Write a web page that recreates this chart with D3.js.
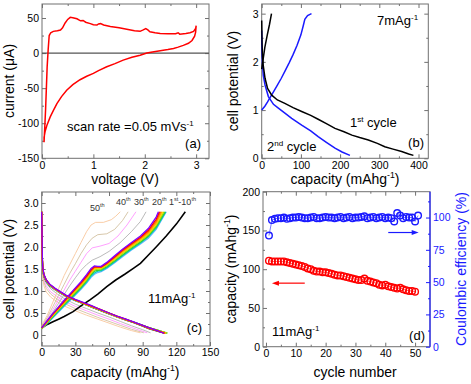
<!DOCTYPE html>
<html>
<head>
<meta charset="utf-8">
<script src="https://cdn.jsdelivr.net/npm/d3@7"></script>
<style>
  body { margin: 0; background: #fff; }
  svg { display: block; }
</style>
</head>
<body>
<div id="chart"></div>
<script>
// ---- data ----
// (a) cyclic voltammogram: [voltage V, current uA]
var cvAnodic = [[0.04,-127],[0.07,-80],[0.1,-20],[0.12,5],[0.14,25],[0.17,29],[0.22,31],[0.3,32],[0.36,33],[0.4,36],[0.45,43],[0.5,48],[0.55,51],[0.6,50.5],[0.68,49],[0.75,46],[0.8,46.5],[0.85,44],[0.94,42],[1.0,40.5],[1.07,40],[1.1,41.5],[1.14,42],[1.2,40],[1.33,38],[1.5,36],[1.65,34],[1.8,32],[1.91,31],[1.97,33],[2.02,35],[2.06,33],[2.1,30.5],[2.2,29],[2.3,28],[2.45,27.5],[2.6,27.5],[2.65,29],[2.68,27],[2.8,28],[2.88,29],[2.95,31],[2.99,35],[3.0,39]];
var cvCathodic = [[3.0,39],[2.99,30],[2.97,24],[2.92,18],[2.85,14],[2.75,11],[2.65,8.5],[2.56,6.6],[2.45,5],[2.3,3.4],[2.15,1.5],[2.04,0],[1.91,-3],[1.75,-6],[1.58,-10],[1.42,-15],[1.26,-19.5],[1.1,-25],[1.0,-29],[0.87,-33],[0.74,-38],[0.6,-45],[0.48,-53],[0.38,-62],[0.29,-72],[0.22,-82],[0.16,-91],[0.1,-102],[0.06,-112],[0.04,-120],[0.04,-127]];

// (b) 7 mA/g, [capacity, potential]
var bDis1 = [[0,2.86],[0.5,2.6],[1,2.35],[2,2.1],[4,1.92],[8.5,1.66],[15,1.45],[25.5,1.31],[40,1.21],[59,1.14],[80,1.05],[102,0.97],[125,0.89],[144,0.81],[165,0.72],[187,0.62],[210,0.55],[230,0.48],[250,0.43],[272,0.38],[295,0.31],[314,0.24],[335,0.19],[357,0.14],[375,0.09],[387,0.06]];
var bCh1 = [[0,1.85],[3,2.02],[8,2.3],[14,2.55],[20,2.78],[25,3.0]];
var bDis2 = [[0,2.65],[0.5,2.35],[1,2.15],[2,1.95],[4,1.72],[8.5,1.52],[17,1.28],[30,1.12],[42.5,1.04],[60,0.93],[76.5,0.83],[102,0.69],[125,0.57],[144,0.45],[165,0.33],[187,0.21],[205,0.13],[225,0.06]];
var bCh2 = [[0,1.0],[8,1.08],[15,1.17],[22,1.27],[30,1.38],[40,1.52],[50,1.66],[60,1.82],[70,1.98],[80,2.15],[90,2.34],[100,2.56],[106,2.75],[110,2.88],[117,2.96],[127,3.0]];

// (c) 11 mA/g, cycles 2-10 charge: potential at shared capacities, then end capacity at 2.8 V
var chargeCaps = [0,5,10,15,20,25,30,35,40,44,47,50,53,58,65,72,80,88,95,102];
var rainbowCharge = [
  [0.14,0.26,0.39,0.52,0.65,0.78,0.91,1.04,1.18,1.31,1.38,1.42,1.44,1.51,1.64,1.78,1.93,2.07,2.20,2.40],
  [0.14,0.27,0.41,0.54,0.67,0.80,0.93,1.06,1.20,1.34,1.41,1.45,1.46,1.53,1.66,1.80,1.95,2.09,2.23,2.43],
  [0.15,0.28,0.42,0.56,0.69,0.82,0.95,1.08,1.23,1.37,1.45,1.47,1.48,1.55,1.68,1.82,1.97,2.11,2.25,2.46],
  [0.15,0.29,0.44,0.58,0.71,0.85,0.98,1.11,1.26,1.40,1.48,1.50,1.50,1.58,1.71,1.85,2.00,2.14,2.28,2.49],
  [0.15,0.30,0.45,0.59,0.73,0.87,1.00,1.13,1.28,1.42,1.50,1.52,1.52,1.60,1.73,1.87,2.02,2.16,2.30,2.52],
  [0.15,0.31,0.46,0.60,0.74,0.88,1.02,1.15,1.30,1.44,1.52,1.53,1.53,1.61,1.75,1.89,2.04,2.18,2.32,2.55],
  [0.16,0.31,0.47,0.61,0.75,0.90,1.04,1.17,1.32,1.46,1.54,1.54,1.54,1.62,1.76,1.91,2.06,2.20,2.35,2.59],
  [0.16,0.32,0.48,0.62,0.77,0.91,1.05,1.19,1.34,1.48,1.55,1.55,1.55,1.63,1.78,1.93,2.08,2.22,2.38,2.63],
  [0.16,0.33,0.49,0.64,0.79,0.93,1.07,1.21,1.37,1.51,1.57,1.56,1.56,1.65,1.80,1.95,2.10,2.25,2.42,2.68]
];
var rainbowChargeEnd = [111,110.5,110,109,108,107,106,105,104];

// cycles 1-10 discharge: potential at shared capacities, then end capacity at 0.04 V
var dischargeCaps = [0,0.3,0.6,1,2,4,7,12,17,22,30,37,45,52,60,67,75,82,90,96,103];
var mainDischarge = [
  [2.8,2.1,1.65,1.46,1.33,1.22,1.12,1.03,0.95,0.87,0.78,0.71,0.63,0.56,0.48,0.41,0.34,0.28,0.20,0.14,0.09],
  [2.8,2.2,1.68,1.48,1.34,1.23,1.13,1.03,0.95,0.87,0.78,0.71,0.64,0.57,0.49,0.42,0.35,0.29,0.22,0.16,0.11],
  [2.8,2.2,1.69,1.49,1.35,1.23,1.13,1.04,0.95,0.88,0.79,0.72,0.64,0.57,0.49,0.42,0.35,0.29,0.22,0.16,0.11],
  [2.8,2.2,1.69,1.49,1.35,1.24,1.14,1.04,0.96,0.88,0.79,0.72,0.64,0.57,0.49,0.42,0.35,0.29,0.22,0.16,0.11],
  [2.8,2.2,1.70,1.50,1.36,1.24,1.14,1.04,0.96,0.88,0.79,0.72,0.64,0.57,0.49,0.42,0.35,0.29,0.21,0.16,0.11],
  [2.8,2.2,1.70,1.50,1.36,1.24,1.14,1.04,0.96,0.88,0.79,0.72,0.64,0.57,0.49,0.42,0.35,0.29,0.21,0.15,0.10],
  [2.8,2.2,1.71,1.51,1.36,1.25,1.15,1.05,0.97,0.89,0.80,0.73,0.65,0.57,0.49,0.42,0.35,0.29,0.21,0.15,0.10],
  [2.8,2.2,1.72,1.51,1.37,1.25,1.15,1.05,0.97,0.89,0.80,0.73,0.65,0.58,0.50,0.43,0.35,0.29,0.21,0.15,0.10],
  [2.8,2.3,1.73,1.52,1.37,1.25,1.15,1.05,0.97,0.89,0.80,0.73,0.65,0.58,0.50,0.43,0.36,0.29,0.22,0.16,0.10],
  [2.8,2.3,1.75,1.53,1.38,1.26,1.16,1.06,0.98,0.90,0.81,0.74,0.66,0.58,0.50,0.43,0.36,0.30,0.22,0.16,0.10]
];
var mainDischargeEnd = [109,111,111.5,112,112,111,110.5,110,109.5,109];

// cycle 1 charge
var ch1Charge = [[0,0.16],[5,0.24],[10,0.3],[15,0.36],[20,0.42],[28,0.53],[35,0.66],[43,0.8],[50,0.93],[58,1.1],[66,1.25],[74,1.38],[82,1.52],[88,1.63],[96,1.84],[102,2.0],[111,2.25],[120,2.52],[128,2.8]];
// 20th, 30th, 40th, 50th cycles
var laterCharge = [
  [[0,0.17],[5,0.34],[10,0.52],[15,0.72],[20,0.92],[25,1.12],[30,1.3],[35,1.47],[40,1.6],[45,1.7],[52,1.78],[60,1.9],[70,2.1],[80,2.35],[88,2.58],[93,2.8]],
  [[0,0.18],[5,0.37],[10,0.58],[15,0.8],[20,1.02],[25,1.25],[30,1.45],[35,1.65],[40,1.85],[45,1.98],[52,2.02],[60,2.08],[68,2.25],[76,2.5],[84,2.8]],
  [[0,0.2],[5,0.4],[10,0.65],[15,0.9],[20,1.15],[25,1.4],[30,1.62],[35,1.85],[40,2.05],[45,2.2],[50,2.28],[58,2.3],[65,2.4],[72,2.6],[77,2.8]],
  [[0,0.22],[5,0.45],[10,0.75],[15,1.05],[20,1.35],[25,1.6],[30,1.85],[35,2.1],[40,2.35],[44,2.5],[48,2.56],[55,2.56],[62,2.62],[66,2.7],[70,2.8]]
];
var laterDischarge = [
  [[0,2.6],[0.5,1.8],[1,1.45],[2,1.3],[4,1.18],[8,1.05],[14,0.93],[20,0.83],[30,0.7],[40,0.6],[50,0.5],[60,0.41],[70,0.31],[80,0.21],[90,0.12],[97,0.05]],
  [[0,2.5],[0.5,1.7],[1,1.4],[2,1.25],[4,1.12],[8,0.98],[14,0.87],[20,0.77],[30,0.65],[40,0.55],[50,0.45],[60,0.36],[70,0.26],[80,0.17],[88,0.1],[94,0.05]],
  [[0,2.4],[0.5,1.6],[1,1.35],[2,1.2],[4,1.06],[8,0.93],[14,0.81],[20,0.72],[30,0.6],[40,0.5],[50,0.4],[60,0.31],[70,0.22],[80,0.13],[91,0.05]],
  [[0,2.3],[0.5,1.5],[1,1.28],[2,1.12],[4,0.98],[8,0.86],[14,0.75],[20,0.66],[30,0.55],[40,0.45],[50,0.36],[60,0.27],[70,0.18],[80,0.1],[88,0.05]]
];
var rainbowColors = ["#6ab4ff","#00cccc","#33cc33","#99dd00","#ffd800","#ffaa00","#ff6600","#ff0000","#8000ff"];
var laterColors = ["#a8a8a8","#ff88ff","#cdb994","#f8c090"];

// (d) cycling at 11 mA/g
var cycles = d3.range(1, 51);
var capacityRed = [111,110,110,110,110,110,109,108,107,106,105,104,103,101,100,98,97,97,96,96,95,94,93,92,92,91,90,89,88,87,86,86,88,85,84,83,82,80,79,80,78,77,76,75,76,74,73,72,72,71];
var cyclesCE = d3.range(1, 52);
var coulombicBlue = [86,98,99,99.5,99.5,100,99,99.5,100,100,100.5,100,99.5,99.5,100,100.5,99.5,99.5,100,100.5,100,100,99.5,100,100.5,99.5,100,100.5,99.5,100,100,100.5,101,99.5,100,100.5,99.5,100,100.5,99.5,100,99.5,97,103.5,101.5,99.5,100.5,100,100,97,101.5];

// ---- drawing ----
var FONT = "'Liberation Sans', Arial, Helvetica, sans-serif";
var frameCol = "#707070";
var svg = d3.select("#chart").append("svg")
  .attr("width", 471).attr("height", 384)
  .style("font-family", FONT);

function drawAxis(g, maker, scale, tx, ty, majors, minors, fmt, col) {
  col = col || frameCol;
  var ga = g.append("g").attr("transform", "translate(" + tx + "," + ty + ")")
    .call(maker(scale).tickValues(majors).tickSizeInner(-4).tickSizeOuter(0).tickPadding(3).tickFormat(fmt || ""));
  ga.attr("font-family", FONT).attr("font-size", 10.5);
  ga.select(".domain").remove();
  ga.selectAll("line").attr("stroke", col);
  ga.selectAll("text").attr("fill", col === frameCol ? "#000" : col);
  var gm = g.append("g").attr("transform", "translate(" + tx + "," + ty + ")")
    .call(maker(scale).tickValues(minors).tickSizeInner(-2).tickSizeOuter(0).tickFormat(""));
  gm.select(".domain").remove();
  gm.selectAll("line").attr("stroke", col);
}

function box(g, x, y) {
  var xr = x.range(), yr = y.range();
  g.append("rect").attr("x", xr[0]).attr("y", yr[1])
    .attr("width", xr[1] - xr[0]).attr("height", yr[0] - yr[1])
    .attr("fill", "none").attr("stroke", frameCol).attr("stroke-width", 1);
}

// text with superscripts: parts = ["text", {sup:"-1"}, ")"]
function richText(g, x, y, parts, size, anchor, rotate, color) {
  var t = g.append("text")
    .attr("transform", "translate(" + x + "," + y + ")" + (rotate ? " rotate(-90)" : ""))
    .attr("text-anchor", anchor || "start")
    .attr("font-size", size)
    .attr("fill", color || "#000");
  var prevSup = false;
  parts.forEach(function (p) {
    var isSup = typeof p !== "string";
    var ts = t.append("tspan").text(isSup ? p.sup : p);
    if (isSup) {
      ts.attr("font-size", size * 0.62);
      if (!prevSup) ts.attr("dy", -size * 0.42);
    } else if (prevSup) {
      ts.attr("dy", size * 0.42);
    }
    prevSup = isSup;
  });
  return t;
}

function plain(d) { return String(d); }
var line = function (x, y) {
  return d3.line().x(function (d) { return x(d[0]); }).y(function (d) { return y(d[1]); });
};

// ---------- panel (a) ----------
var ga = svg.append("g");
var xa = d3.scaleLinear().domain([0, 3.25]).range([42, 209]);
var ya = d3.scaleLinear().domain([-150, 70]).range([158.3, 4]);
box(ga, xa, ya);
drawAxis(ga, d3.axisBottom, xa, 0, 158.3, [0, 1, 2, 3], [0.5, 1.5, 2.5], plain);
drawAxis(ga, d3.axisTop, xa, 0, 4, [0, 1, 2, 3], [0.5, 1.5, 2.5]);
drawAxis(ga, d3.axisLeft, ya, 42, 0, [-150, -100, -50, 0, 50], [-125, -75, -25, 25], plain);
drawAxis(ga, d3.axisRight, ya, 209, 0, [-150, -100, -50, 0, 50], [-125, -75, -25, 25]);
ga.append("line").attr("x1", xa(0)).attr("x2", xa(3.25)).attr("y1", ya(0)).attr("y2", ya(0))
  .attr("stroke", "#555").attr("stroke-width", 1.2);
ga.append("path").datum(cvAnodic.concat(cvCathodic))
  .attr("d", line(xa, ya)).attr("fill", "none").attr("stroke", "#ff0000").attr("stroke-width", 1.5);
richText(ga, 67, 131, ["scan rate =0.05 mVs", {sup: "-1"}], 13);
richText(ga, 201, 148, ["(a)"], 13, "end");
richText(ga, 14, 81, ["current (\u03bcA)"], 14, "middle", true);
richText(ga, 125, 184, ["voltage (V)"], 14, "middle");

// ---------- panel (b) ----------
var gb = svg.append("g");
var xb = d3.scaleLinear().domain([0, 425]).range([261.7, 428.3]);
var yb = d3.scaleLinear().domain([0, 3.2]).range([158.3, 4]);
box(gb, xb, yb);
drawAxis(gb, d3.axisBottom, xb, 0, 158.3, [0, 100, 200, 300, 400], [50, 150, 250, 350], plain);
drawAxis(gb, d3.axisTop, xb, 0, 4, [0, 100, 200, 300, 400], [50, 150, 250, 350]);
drawAxis(gb, d3.axisLeft, yb, 261.7, 0, [0, 1, 2, 3], [0.5, 1.5, 2.5], plain);
drawAxis(gb, d3.axisRight, yb, 428.3, 0, [0, 1, 2, 3], [0.5, 1.5, 2.5]);
[[bDis2, "#1a1aff"], [bCh2, "#1a1aff"], [bDis1, "#000"], [bCh1, "#000"]].forEach(function (s) {
  gb.append("path").datum(s[0]).attr("d", line(xb, yb))
    .attr("fill", "none").attr("stroke", s[1]).attr("stroke-width", 1.5);
});
richText(gb, 377, 25, ["7mAg", {sup: "-1"}], 13);
richText(gb, 350, 127, ["1", {sup: "st"}, " cycle"], 13);
richText(gb, 267, 151, ["2", {sup: "nd"}, " cycle"], 13);
richText(gb, 424, 147, ["(b)"], 13, "end");
richText(gb, 238, 81, ["cell potential (V)"], 14, "middle", true);
richText(gb, 345, 184, ["capacity (mAhg", {sup: "-1"}, ")"], 14, "middle");

// ---------- panel (c) ----------
var gc = svg.append("g");
var xc = d3.scaleLinear().domain([0, 150]).range([41.7, 210]);
var yc = d3.scaleLinear().domain([-0.25, 3.25]).range([346, 192]);
box(gc, xc, yc);
drawAxis(gc, d3.axisBottom, xc, 0, 346, [0, 30, 60, 90, 120, 150], [15, 45, 75, 105, 135], plain);
drawAxis(gc, d3.axisTop, xc, 0, 192, [0, 30, 60, 90, 120, 150], [15, 45, 75, 105, 135]);
var fmtC = function (d) { return d === 0 ? "0" : d3.format(".1f")(d); };
drawAxis(gc, d3.axisLeft, yc, 41.7, 0, [0, 0.5, 1, 1.5, 2, 2.5, 3], [0.25, 0.75, 1.25, 1.75, 2.25, 2.75], fmtC);
drawAxis(gc, d3.axisRight, yc, 210, 0, [0, 0.5, 1, 1.5, 2, 2.5, 3], [0.25, 0.75, 1.25, 1.75, 2.25, 2.75]);
var lc = line(xc, yc);
laterDischarge.forEach(function (s, i) {
  gc.append("path").datum(s).attr("d", lc).attr("fill", "none").attr("stroke", laterColors[i]).attr("stroke-width", 0.8);
});
laterCharge.forEach(function (s, i) {
  gc.append("path").datum(s).attr("d", lc).attr("fill", "none").attr("stroke", laterColors[i]).attr("stroke-width", 0.8);
});
gc.append("path").datum(ch1Charge).attr("d", lc).attr("fill", "none").attr("stroke", "#000").attr("stroke-width", 1.6);
rainbowCharge.forEach(function (vals, i) {
  var pts = chargeCaps.map(function (c, j) { return [c, vals[j]]; });
  pts.push([rainbowChargeEnd[i], 2.8]);
  gc.append("path").datum(pts).attr("d", lc).attr("fill", "none").attr("stroke", rainbowColors[i]).attr("stroke-width", 1.3);
});
mainDischarge.forEach(function (vals, i) {
  var pts = dischargeCaps.map(function (c, j) { return [c, vals[j]]; });
  pts.push([mainDischargeEnd[i], 0.04]);
  gc.append("path").datum(pts).attr("d", lc).attr("fill", "none")
    .attr("stroke", i === 0 ? "#000" : rainbowColors[i - 1]).attr("stroke-width", 1.3);
});
richText(gc, 90, 211, ["50", {sup: "th"}], 9, "start", false, "#333");
richText(gc, 116, 205, ["40", {sup: "th"}], 9, "start", false, "#333");
richText(gc, 134, 205, ["30", {sup: "th"}], 9, "start", false, "#333");
richText(gc, 152, 205, ["20", {sup: "th"}], 9, "start", false, "#333");
richText(gc, 169, 205, ["1", {sup: "st"}, "-10", {sup: "th"}], 9, "start", false, "#333");
richText(gc, 148, 303, ["11mAg", {sup: "-1"}], 13);
richText(gc, 202, 332, ["(c)"], 13, "end");
richText(gc, 14, 269, ["cell potential (V)"], 14, "middle", true);
richText(gc, 125, 377, ["capacity (mAhg", {sup: "-1"}, ")"], 14, "middle");

// ---------- panel (d) ----------
var gd = svg.append("g");
var xd = d3.scaleLinear().domain([-1, 55]).range([263, 430]);
var ydL = d3.scaleLinear().domain([0, 200]).range([346.7, 191.7]);
var ydR = d3.scaleLinear().domain([0, 120]).range([346.7, 191.7]);
var blue = "#1a1aff";
box(gd, xd, ydL);
drawAxis(gd, d3.axisBottom, xd, 0, 346.7, [0, 10, 20, 30, 40, 50], [5, 15, 25, 35, 45], plain);
drawAxis(gd, d3.axisTop, xd, 0, 191.7, [0, 10, 20, 30, 40, 50], [5, 15, 25, 35, 45]);
drawAxis(gd, d3.axisLeft, ydL, 263, 0, [0, 50, 100, 150, 200], [25, 75, 125, 175], plain);
gd.append("line").attr("x1", 430).attr("x2", 430).attr("y1", 191.7).attr("y2", 346.7)
  .attr("stroke", blue).attr("stroke-width", 1.2);
drawAxis(gd, d3.axisRight, ydR, 430, 0, [0, 25, 50, 75, 100], [12.5, 37.5, 62.5, 87.5, 112.5], plain, blue);

var redPts = cycles.map(function (c, i) { return [c, capacityRed[i]]; });
var bluePts = cyclesCE.map(function (c, i) { return [c, coulombicBlue[i]]; });
gd.append("path").datum(redPts).attr("d", line(xd, ydL)).attr("fill", "none").attr("stroke", "#ff0000").attr("stroke-width", 0.6);
gd.append("path").datum(bluePts).attr("d", line(xd, ydR)).attr("fill", "none").attr("stroke", blue).attr("stroke-width", 0.6);
gd.selectAll("circle.red").data(redPts).enter().append("circle").attr("class", "red")
  .attr("cx", function (d) { return xd(d[0]); }).attr("cy", function (d) { return ydL(d[1]); })
  .attr("r", 3.3).attr("fill", "none").attr("stroke", "#ff0000").attr("stroke-width", 1.4);
gd.selectAll("circle.blue").data(bluePts).enter().append("circle").attr("class", "blue")
  .attr("cx", function (d) { return xd(d[0]); }).attr("cy", function (d) { return ydR(d[1]); })
  .attr("r", 3.3).attr("fill", "none").attr("stroke", blue).attr("stroke-width", 1.4);

function arrow(g, x1, y1, x2, y2, col) {
  g.append("line").attr("x1", x1).attr("y1", y1).attr("x2", x2 + (x2 > x1 ? -5 : 5)).attr("y2", y2)
    .attr("stroke", col).attr("stroke-width", 1.2);
  var dir = x2 > x1 ? -1 : 1;
  g.append("path").attr("d", "M" + x2 + "," + y2 + "L" + (x2 + dir * 7) + "," + (y2 - 2.5) + "L" + (x2 + dir * 7) + "," + (y2 + 2.5) + "Z")
    .attr("fill", col);
}
arrow(gd, xd(13), ydL(82), xd(2), ydL(82), "#ff0000");
arrow(gd, xd(41), ydR(88.4), xd(51.2), ydR(88.4), blue);

richText(gd, 272, 336, ["11mAg", {sup: "-1"}], 13);
richText(gd, 425, 340, ["(d)"], 13, "end");
richText(gd, 236, 269, ["capacity (mAhg", {sup: "-1"}, ")"], 14, "middle", true);
richText(gd, 466, 269, ["Coulombic efficiency (%)"], 14, "middle", true, blue);
richText(gd, 355, 377, ["cycle number"], 14, "middle");
</script>
</body>
</html>
